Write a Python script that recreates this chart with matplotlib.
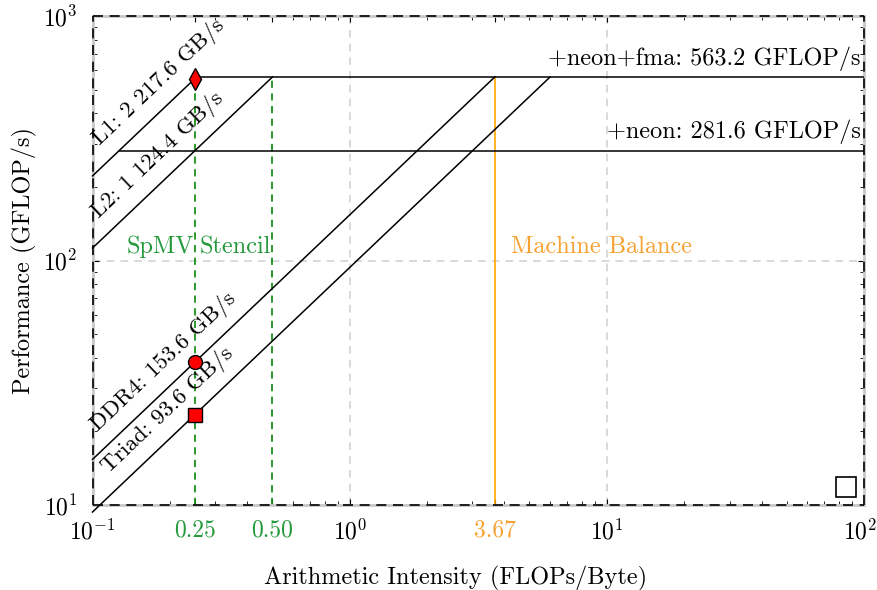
import matplotlib
matplotlib.use("Agg")
import matplotlib.pyplot as plt
import numpy as np
from matplotlib.lines import Line2D

plt.rcParams['font.family'] = ['cmr10', 'DejaVu Serif']
plt.rcParams['mathtext.fontset'] = 'cm'
plt.rcParams['axes.formatter.use_mathtext'] = True
plt.rcParams['axes.unicode_minus'] = False

# ---- data ----
peak_names = ["+neon+fma", "+neon"]
peak_values = [563.2, 281.6]            # GFLOP/s
bw_names = ["L1", "L2", "DDR4", "Triad"]
bw_values = [2217.6, 1124.4, 153.6, 93.6]   # GB/s
bw_labels = ["L1: 2 217.6 GB/s", "L2: 1 124.4 GB/s", "DDR4: 153.6 GB/s", "Triad: 93.6 GB/s"]
kernel_names = ["SpMV", "Stencil"]
kernel_ai = [0.25, 0.50]
machine_balance = 3.67
point_ai = [0.25, 0.25, 0.25]
point_bw = [2217.6, 153.6, 93.6]
point_markers = ["d", "o", "s"]
x_major = [0.1, 1, 10, 100]
x_major_labels = [r"$10^{-1}$", r"$10^{0}$", r"$10^{1}$", r"$10^{2}$"]
extra_ticks = [0.25, 0.50, 3.67]
extra_labels = ["0.25", "0.50", "3.67"]

GREEN_LINE = "#1a901a"
GREEN_TXT = "#24993a"
ORANGE = "#ffa500"
ORANGE_TXT = "#f8a030"
FS = 17.5

fig = plt.figure(figsize=(8.77, 5.90), dpi=100)
ax = fig.add_axes([92.5/877, 85/590, 771.5/877, 489/590])
ax.set_xscale('log')
ax.set_yscale('log')
ax.set_xlim(0.1, 100)
ax.set_ylim(10, 1000)

# grid
for xv in [1, 10]:
    ax.axvline(xv, color='#d0d0d0', ls=(0, (5, 4)), lw=1.1, zorder=0)
ax.axhline(100, color='#d0d0d0', ls=(0, (5, 4)), lw=1.1, zorder=0)

top = peak_values[0]
xmin = 0.1
# bandwidth roofs
for bw in bw_values:
    ridge = top / bw
    ax.plot([xmin, ridge], [xmin * bw, top], color='black', lw=1.1, clip_on=False, zorder=3)
# compute ceilings
ax.plot([peak_values[0] / bw_values[0], 100], [peak_values[0]] * 2, color='black', lw=1.1, zorder=3)
ax.plot([peak_values[1] / bw_values[0], 100], [peak_values[1]] * 2, color='black', lw=1.1, zorder=3)

# ceiling labels
for name, pv in zip(peak_names, peak_values):
    ax.text(100 / 1.03, pv * 1.06, f"{name}: {pv:.1f} GFLOP/s", ha='right', va='bottom',
            fontsize=FS)

# roof labels (rotated along lines)
p1 = ax.transData.transform((1, 10))
p2 = ax.transData.transform((10, 100))
ang = np.degrees(np.arctan2(p2[1] - p1[1], p2[0] - p1[0]))
label_x = [0.107, 0.106, 0.1045, 0.116]
for lbl, bw, x0 in zip(bw_labels, bw_values, label_x):
    ax.text(x0, x0 * bw * 1.24, lbl, rotation=ang, rotation_mode='anchor',
            ha='left', va='baseline', fontsize=16.5, zorder=4)

# kernel lines
for name, ai in zip(kernel_names, kernel_ai):
    ymax = min(top, ai * bw_values[0])
    ax.plot([ai, ai], [10, ymax], color=GREEN_LINE, ls=(0, (4, 3)), lw=1.3, zorder=2)
    ax.text(ai / 1.01, 102, name, ha='right', va='bottom', color=GREEN_TXT, fontsize=FS)

# machine balance
ax.plot([machine_balance, machine_balance], [10, top], color=ORANGE, lw=1.2, zorder=2)
ax.text(machine_balance * 1.16, 102, "Machine Balance", ha='left', va='bottom',
        color=ORANGE_TXT, fontsize=FS)

# points
for ai, bw, m in zip(point_ai, point_bw, point_markers):
    ax.plot([ai], [ai * bw], marker=m, color='red', mec='black', mew=1.0,
            ms=11 if m == 'd' else 10, ls='none', zorder=5)

# ticks (last major label drawn separately, nudged left to stay inside figure)
tick_labels = x_major_labels[:-1] + [""] + extra_labels
ax.set_xticks(x_major + extra_ticks)
ax.set_xticklabels(tick_labels)
for t, lab in zip(ax.get_xticklabels(), tick_labels):
    if lab in ("0.25", "0.50"):
        t.set_color(GREEN_TXT)
    elif lab == "3.67":
        t.set_color(ORANGE_TXT)
ax.annotate(x_major_labels[-1], xy=(x_major[-1], 0), xycoords=ax.get_xaxis_transform(),
            xytext=(-3, -10), textcoords='offset points', ha='center', va='top', fontsize=17)
ax.set_yticks([10, 100, 1000])
ax.tick_params(axis='both', which='both', direction='in', top=True, right=True, labelsize=17)
ax.tick_params(axis='x', which='major', length=4, pad=10)
ax.tick_params(axis='y', which='major', length=4, pad=11)
ax.tick_params(which='minor', length=3)

ax.set_xlabel("Arithmetic Intensity (FLOPs/Byte)", fontsize=FS, labelpad=12)
ax.xaxis.set_label_coords(0.47, -0.125)
ax.set_ylabel("Performance (GFLOP/s)", fontsize=FS, labelpad=4)

# spines: light gray solid with black dashes on top
for s in ax.spines.values():
    s.set_color('#c8c8c8')
    s.set_linewidth(2.0)
for xs, ys in [([0, 1], [0, 0]), ([0, 1], [1, 1]), ([0, 0], [0, 1]), ([1, 1], [0, 1])]:
    ax.add_line(Line2D(xs, ys, transform=ax.transAxes, color='black', lw=1.2,
                       ls=(0, (6, 4)), clip_on=False, zorder=6))

# empty legend box
leg = ax.legend(handles=[], loc='lower right', frameon=True, fancybox=False,
                edgecolor='black', framealpha=1, borderpad=0.6, fontsize=12)
leg.get_frame().set_linewidth(1.2)

fig.savefig("out.png", dpi=100)
